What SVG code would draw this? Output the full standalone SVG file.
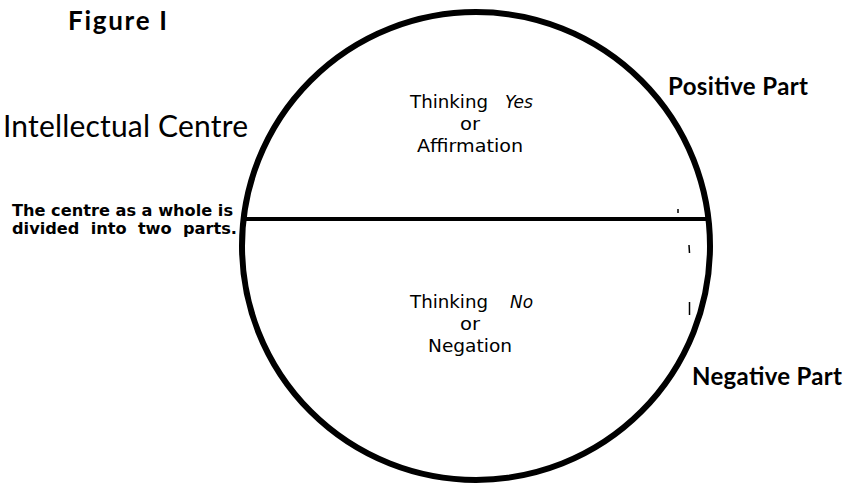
<svg xmlns="http://www.w3.org/2000/svg" width="848" height="487" viewBox="0 0 848 487">
<style>
text{font-family:Lato,"Open Sans","DejaVu Sans",sans-serif;fill:#000}
.title{font-size:26px;font-weight:bold}
.big{font-size:30px;font-weight:normal}
.part{font-size:24px;font-weight:bold}
.note{font-family:"DejaVu Sans",sans-serif;font-size:16px;font-weight:bold}
.inner{font-family:"DejaVu Sans",sans-serif;font-size:17.5px}
.shape{fill:none;stroke:#000}
.mark{stroke:#000;stroke-width:1.5;fill:none}
</style>
<rect width="848" height="487" fill="#fff"/>
<g id="circle">
<circle class="shape" cx="476" cy="246" r="234" stroke-width="6"/>
</g>
<g id="connectors">
<line class="shape" x1="243" y1="219" x2="709" y2="219" stroke-width="4"/>
</g>
<g id="marks">
<line class="mark" x1="678" y1="209" x2="678" y2="213"/>
<line class="mark" x1="689" y1="245" x2="689.5" y2="253"/>
<line class="mark" x1="689.5" y1="302" x2="689.5" y2="315"/>
</g>
<g id="figure-label"><text class="title" x="68" y="30" textLength="99" lengthAdjust="spacing">Figure I</text></g>
<g id="centre-label"><text class="big" x="3" y="137" textLength="245" lengthAdjust="spacing">Intellectual Centre</text></g>
<g id="note">
<text class="note" x="12" y="216" textLength="221" lengthAdjust="spacingAndGlyphs">The centre as a whole is</text>
<text class="note" x="12" y="234" textLength="225" lengthAdjust="spacingAndGlyphs" xml:space="preserve">divided  into  two  parts.</text>
</g>
<g id="positive-part"><text class="part" x="668" y="95" textLength="140" lengthAdjust="spacing">Positive Part</text></g>
<g id="negative-part"><text class="part" x="692" y="385" textLength="150" lengthAdjust="spacing">Negative Part</text></g>
<g id="upper">
<text class="inner" x="410" y="108" textLength="78" lengthAdjust="spacingAndGlyphs">Thinking</text>
<text class="inner" x="505" y="108" font-style="italic" textLength="28" lengthAdjust="spacingAndGlyphs">Yes</text>
<text class="inner" x="460" y="130" textLength="20" lengthAdjust="spacingAndGlyphs">or</text>
<text class="inner" x="417" y="152" textLength="106" lengthAdjust="spacingAndGlyphs">Affirmation</text>
</g>
<g id="lower">
<text class="inner" x="410" y="308" textLength="78" lengthAdjust="spacingAndGlyphs">Thinking</text>
<text class="inner" x="510" y="308" font-style="italic" textLength="23" lengthAdjust="spacingAndGlyphs">No</text>
<text class="inner" x="460" y="330" textLength="20" lengthAdjust="spacingAndGlyphs">or</text>
<text class="inner" x="428" y="352" textLength="84" lengthAdjust="spacingAndGlyphs">Negation</text>
</g>
</svg>
